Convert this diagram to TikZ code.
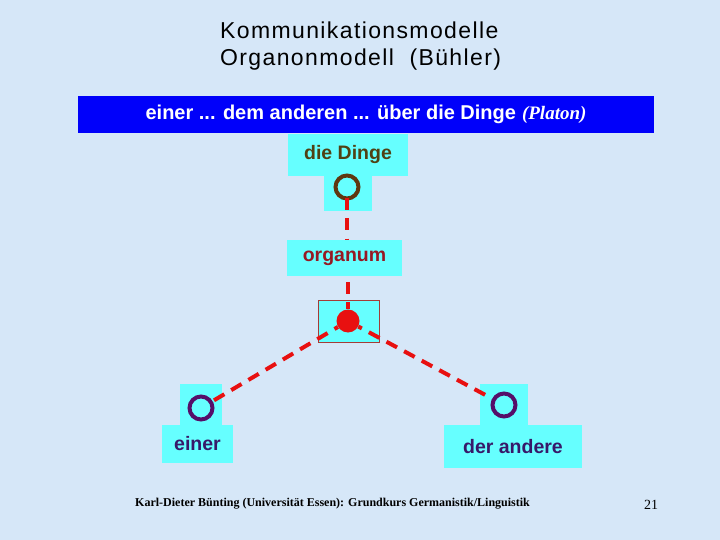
\documentclass[tikz,border=0pt]{standalone}
\usepackage{fontspec}
\setmainfont{Liberation Sans}
\newfontfamily\timesfont{Liberation Serif}
\definecolor{bgc}{RGB}{214,231,248}
\definecolor{cyanbox}{RGB}{102,255,255}
\definecolor{barblue}{RGB}{0,0,250}
\definecolor{dingetext}{RGB}{80,65,20}
\definecolor{dingering}{RGB}{95,55,15}
\definecolor{organtext}{RGB}{150,25,35}
\definecolor{persontext}{RGB}{55,25,105}
\definecolor{personring}{RGB}{85,15,105}
\definecolor{dashred}{RGB}{232,16,16}
\definecolor{boxborder}{RGB}{165,60,55}
\tikzset{
  cbox/.style={fill=cyanbox, inner sep=0pt, draw=none},
  lbl/.style={font=\fontsize{19.5}{22}\selectfont\bfseries},
  ring/.style={circle, draw=#1, line width=4pt, minimum size=23pt, inner sep=0pt},
  reddash/.style={draw=dashred, line width=4pt, dash pattern=on 12pt off 8pt},
  titlefont/.style={font=\fontsize{23}{27}\selectfont\addfontfeature{LetterSpace=6}}
}
\begin{document}
\begin{tikzpicture}[x=1pt,y=-1pt]
\fill[bgc] (0,0) rectangle (720,540);
\useasboundingbox (0,0) rectangle (720,540);
% title
\node[anchor=base west, inner sep=0pt, titlefont] (t1) at (220,39) {Kommunikationsmodelle};
\node[anchor=base west, inner sep=0pt, titlefont] (t2) at (220,66) {Organonmodell\ \ (Bühler)};
% blue bar
\node[fill=barblue, inner sep=0pt, minimum width=576pt, minimum height=37pt] (bar) at (366,114.5) {};
\node[text=white, font=\fontsize{20}{22}\selectfont\bfseries, inner sep=0pt] (bartext) at (bar.center) {einer ... dem anderen ... über die Dinge\hspace{6pt}{\timesfont\bfseries\itshape\fontsize{19}{22}\selectfont (Platon)}};
% die Dinge
\node[cbox, minimum width=48pt, minimum height=36pt] (dingeS) at (348,193) {};
\node[cbox, minimum width=120pt, minimum height=42pt, text=dingetext, lbl] (dinge) at (348,155) {die Dinge};
% organum
\node[cbox, minimum width=115pt, minimum height=36pt, text=organtext, lbl] (organ) at (344.5,258) {organum};
% centre box
\node[fill=cyanbox, draw=boxborder, line width=1pt, inner sep=0pt, minimum width=61pt, minimum height=42pt] (centre) at (348.5,321) {};
% einer
\node[cbox, minimum width=42pt, minimum height=41pt] (einerS) at (201,404.5) {};
\node[cbox, minimum width=71pt, minimum height=38pt, text=persontext, lbl] (einer) at (197.5,444) {einer};
% der andere
\node[cbox, minimum width=48pt, minimum height=41pt] (andereS) at (504,404.5) {};
\node[cbox, minimum width=138pt, minimum height=43pt, text=persontext, lbl] (andere) at (513,446.5) {der andere};
% circles
\node[ring=dingering] (dingeR) at (347,187) {};
\node[ring=personring] (einerR) at (201,408) {};
\node[ring=personring] (andereR) at (504,405) {};
\node[circle, fill=dashred, minimum size=23pt, inner sep=0pt] (red) at (348,321) {};
% connectors
\draw[reddash] ([yshift=2pt]dingeR.south) -- (organ.north -| dingeR.south);
\draw[reddash, dash phase=14pt] (organ.south -| red.north) -- (red.north);
\draw[reddash, dash phase=8pt] (red) -- (einerR);
\draw[reddash, dash phase=8pt] (red) -- (andereR);
% footer
\node[anchor=base west, inner sep=0pt, font=\timesfont\bfseries\fontsize{12}{14}\selectfont] (foot) at (135,506) {Karl-Dieter Bünting (Universität Essen): Grundkurs Germanistik/Linguistik};
\node[anchor=base, inner sep=0pt, font=\timesfont\fontsize{14}{16}\selectfont] (page) at (651,509) {21};
\end{tikzpicture}
\end{document}
